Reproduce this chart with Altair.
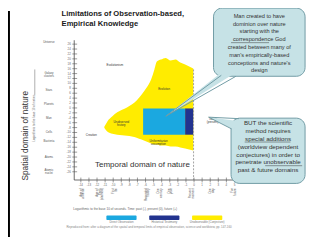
import altair as alt
import pandas as pd

# ---------------- data ----------------
title_lines = ["Limitations of Observation-based,", "Empirical Knowledge"]

time_ticks = list(range(-14, 6))           # log10 seconds, 0 = present
space_ticks = list(range(26, -27, -2))     # log10 metres

space_names = ["Universe", "Galaxy\nclusters", "Stars", "Planets", "Man", "Cells",
               "Bacteria", "Atoms", "Atomic\nnuclei"]
space_levels = [26.8, 14.3, 7.4, 1.4, -4.2, -9.7, -13.3, -20.0, -25.2]

event_names = ["Age of\nuniverse", "Age of\nEarth\n(claimed)", "First\nlife", "Recorded\nhistory",
               "One\ncentury", "One\nyear", "Present\nmoment", "One\nday", "Far\nfuture"]
event_times = [-14, -12, -10, -6, -4.4, -3.1, -0.5, 2, 4.7]

# unobservable (conjecture) region of the domain
blob_t = [-11.1, -10.7, -10.1, -9.5, -8.3, -7.1, -6.5, -5.9, -5.3, -4.9, -4.6, -4.1,
          -3.5, -2.9, -2.3, -1.7, -1.1, -0.6, -0.1]
blob_top = [-7.7, -5.4, -3.4, -1.8, 0.2, 3.0, 5.4, 8.1, 11.7, 15.7, 18.9, 19.7,
            20.4, 19.3, 19.7, 18.5, 17.7, 16.9, 16.1]
blob_bottom = [-8.1, -9.7, -10.5, -10.9, -11.3, -12.1, -12.9, -13.7, -14.5, -14.9, -14.9, -15.3,
               -15.3, -15.7, -15.7, -16.1, -16.5, -16.9, -17.3]

obs_names = ["Direct Observation", "Historical Testimony"]
obs_t0 = [-6.3, -1.1]
obs_t1 = [-1.1, -0.1]
obs_s_top = [-0.2, -0.2]
obs_s_bottom = [-10.9, -10.9]

legend_names = ["Direct Observation", "Historical Testimony", "Unobservable (Conjecture)"]
legend_colors = ["#1ba8e0", "#22338f", "#ffec00"]

region_labels = ["Evolutionism", "Evolution", "Unobserved\nhistory", "Uniformitarian\nassumption",
                 "Creation", "Today\n(present)"]
region_label_t = [-9.8, -3.7, -9.0, -4.4, -12.7, 2.3]
region_label_s = [17.5, 7.9, -5.6, -13.3, -10.9, -4.4]

callout1_lines = ["Man created to have", "dominion over nature", "starting with the",
                  "correspondence God", "created between many of", "man's empirically-based",
                  "conceptions and nature's", "design"]
callout2_lines = ["BUT the scientific", "method requires", "special additions",
                  "(worldview dependent", "conjectures) in order to", "penetrate unobservable",
                  "past & future domains"]

y_title = "Spatial domain of nature"
y_note = "Logarithmic to the base 10 of metres"
x_title = "Temporal domain of nature"
x_note = "Logarithmic to the base 10 of seconds.  Time: past (-), present (0), future (+)"
source_note = ("Reproduced from: after a diagram of the spatial and temporal limits of empirical "
               "observation, science and worldview, pp. 147-160")

# ---------------- layout (page pixels) ----------------
W, H = 308, 232
PX_T, PX_S = 8.3, 2.52
T0_PAGE, S26_PAGE = 199.0, 42.0
XA = -(T0_PAGE - 8) / PX_T
XB = XA + W / PX_T
YB = 26 + (S26_PAGE - 8) / PX_S
YA = YB - H / PX_S


def tx(px):
    return (px - T0_PAGE) / PX_T


def sy(py):
    return 26 - (py - S26_PAGE) / PX_S


XS = alt.Scale(domain=[XA, XB], nice=False, zero=False)
YS = alt.Scale(domain=[YA, YB], nice=False, zero=False)


def X(f):
    return alt.X(f, type="quantitative", scale=XS, axis=None)


def Y(f):
    return alt.Y(f, type="quantitative", scale=YS, axis=None)


def rules(df, color="#555", width=0.7, **kw):
    return alt.Chart(df).mark_rule(color=color, strokeWidth=width, **kw).encode(
        x=X("x"), x2=alt.X2("x2"), y=Y("y"), y2=alt.Y2("y2"))


def texts(df, **kw):
    return alt.Chart(df).mark_text(lineBreak="\n", font="Liberation Sans", **kw).encode(
        x=X("x"), y=Y("y"), text="label:N")


def rects(df, **kw):
    return alt.Chart(df).mark_rect(**kw).encode(
        x=X("x"), x2=alt.X2("x2"), y=Y("y"), y2=alt.Y2("y2"))


layers = []

# left frame line
layers.append(rects(pd.DataFrame({"x": [tx(8)], "x2": [tx(10)], "y": [sy(8)], "y2": [sy(240)]}),
                    color="#000"))

# title
layers.append(texts(pd.DataFrame({"x": [tx(63)] * 2, "y": [sy(11), sy(21.5)], "label": title_lines}),
                    align="left", baseline="middle", fontSize=7.8, fontWeight="bold", color="#1a1a1a"))

# yellow region
blob = pd.DataFrame({"t": blob_t, "top": blob_top, "bottom": blob_bottom})
layers.append(alt.Chart(blob).mark_area(color="#ffec00", interpolate="monotone", opacity=1).encode(
    x=X("t"), y=Y("top"), y2=alt.Y2("bottom")))

# observation rectangles
obs = pd.DataFrame({"x": obs_t0, "x2": obs_t1, "y": obs_s_top, "y2": obs_s_bottom, "name": obs_names})
layers.append(alt.Chart(obs).mark_rect().encode(
    x=X("x"), x2=alt.X2("x2"), y=Y("y"), y2=alt.Y2("y2"),
    color=alt.Color("name:N", scale=alt.Scale(domain=legend_names, range=legend_colors), legend=None)))

# present (dashed)
layers.append(rules(pd.DataFrame({"x": [tx(198.5)], "x2": [tx(198.5)], "y": [sy(68)], "y2": [sy(181)]}),
                    color="#8a8a8a", width=0.8, strokeDash=[2, 1.5]))

# region labels
layers.append(texts(pd.DataFrame({"x": region_label_t, "y": region_label_s, "label": region_labels}),
                    fontSize=3, color="#333", lineHeight=3.4))

# y axis
layers.append(rules(pd.DataFrame({"x": [tx(76)], "x2": [tx(76)], "y": [sy(38)], "y2": [sy(181.5)]}),
                    color="#444", width=0.8))
layers.append(rules(pd.DataFrame({"x": [tx(74)] * len(space_ticks), "x2": [tx(79)] * len(space_ticks),
                                  "y": space_ticks, "y2": space_ticks}), color="#555", width=0.6))
layers.append(texts(pd.DataFrame({"x": [tx(72.5)] * len(space_ticks), "y": space_ticks,
                                  "label": [str(v) for v in space_ticks]}),
                    align="right", baseline="middle", fontSize=3, color="#666"))
layers.append(texts(pd.DataFrame({"x": [tx(50)] * len(space_names), "y": space_levels, "label": space_names}),
                    align="center", baseline="middle", fontSize=3, color="#555", lineHeight=3.4))
layers.append(texts(pd.DataFrame({"x": [tx(26)], "y": [sy(136)], "label": [y_title]}),
                    angle=270, fontSize=8.5, color="#333", baseline="middle"))
layers.append(texts(pd.DataFrame({"x": [tx(35)], "y": [sy(118)], "label": [y_note]}),
                    angle=270, fontSize=3, color="#777", baseline="middle"))
layers.append(rules(pd.DataFrame({"x": [tx(35.5)], "x2": [tx(35.5)], "y": [sy(68)], "y2": [sy(94)]}),
                    color="#777", width=0.6))

# x axis
layers.append(rules(pd.DataFrame({"x": [tx(76)], "x2": [tx(240.5)], "y": [sy(181.5)], "y2": [sy(181.5)]}),
                    color="#444", width=0.8))
layers.append(rules(pd.DataFrame({"x": time_ticks, "x2": time_ticks,
                                  "y": [sy(179)] * len(time_ticks), "y2": [sy(184)] * len(time_ticks)}),
                    color="#555", width=0.6))
layers.append(texts(pd.DataFrame({"x": time_ticks, "y": [sy(186.5)] * len(time_ticks),
                                  "label": [str(v) for v in time_ticks]}),
                    baseline="middle", fontSize=3, color="#666"))
layers.append(texts(pd.DataFrame({"x": event_times, "y": [sy(190)] * len(event_times), "label": event_names}),
                    angle=270, align="right", baseline="middle", fontSize=3, color="#666", lineHeight=2.6))
layers.append(texts(pd.DataFrame({"x": [tx(146)], "y": [sy(166)], "label": [x_title]}),
                    fontSize=8.2, color="#333", baseline="middle"))
layers.append(texts(pd.DataFrame({"x": [tx(75)], "y": [sy(211)], "label": [x_note]}),
                    align="left", baseline="middle", fontSize=3.2, color="#666"))

# legend
li = range(len(legend_names))
leg = pd.DataFrame({"x": [tx(109 + 44 * i) for i in li], "x2": [tx(140 + 44 * i) for i in li],
                    "y": [sy(218)] * 3, "y2": [sy(222.5)] * 3, "name": legend_names})
layers.append(alt.Chart(leg).mark_rect(cornerRadius=1).encode(
    x=X("x"), x2=alt.X2("x2"), y=Y("y"), y2=alt.Y2("y2"),
    color=alt.Color("name:N", scale=alt.Scale(domain=legend_names, range=legend_colors), legend=None)))
layers.append(texts(pd.DataFrame({"x": [tx(124.5 + 44 * i) for i in li], "y": [sy(225)] * 3,
                                  "label": legend_names}),
                    baseline="middle", fontSize=3, color="#777"))
layers.append(texts(pd.DataFrame({"x": [tx(68)], "y": [sy(230)], "label": [source_note]}),
                    align="left", baseline="middle", fontSize=3, color="#888"))

# callouts
BUB_FILL, BUB_STROKE = "#c6e2e6", "#6f9aa3"


def bubble(x0, y0, x1, y1):
    return rects(pd.DataFrame({"x": [tx(x0)], "x2": [tx(x1)], "y": [sy(y0)], "y2": [sy(y1)]}),
                 fill=BUB_FILL, stroke=BUB_STROKE, strokeWidth=1, cornerRadius=9)


def pointer(pts):
    df = pd.DataFrame({"x": [tx(p[0]) for p in pts], "y": [sy(p[1]) for p in pts], "i": list(range(len(pts)))})
    return alt.Chart(df).mark_line(interpolate="linear-closed", fill=BUB_FILL, stroke=None).encode(
        x=X("x"), y=Y("y"), order="i:O")


def edge(p, q):
    return rules(pd.DataFrame({"x": [tx(p[0])], "x2": [tx(q[0])], "y": [sy(p[1])], "y2": [sy(q[1])]}),
                 color=BUB_STROKE, width=1)


# callout 1
layers.append(bubble(219, 5, 313, 75))
layers.append(pointer([(227, 71), (242, 71), (170, 116)]))
layers.append(edge((227, 74), (170, 116)))
layers.append(edge((242, 75), (170, 116)))
layers.append(texts(pd.DataFrame({"x": [tx(266)] * len(callout1_lines),
                                  "y": [sy(13 + 8 * i) for i in range(len(callout1_lines))],
                                  "label": callout1_lines}),
                    baseline="middle", fontSize=5.8, color="#333"))
layers.append(rules(pd.DataFrame({"x": [tx(237)], "x2": [tx(276)], "y": [sy(40.5)], "y2": [sy(40.5)]}),
                    color="#333", width=0.5))

# callout 2
layers.append(bubble(237, 118, 313, 185))
layers.append(pointer([(244, 121), (240, 130), (214, 117)]))
layers.append(edge((245, 118.5), (214, 117)))
layers.append(edge((237.5, 129), (214, 117)))
layers.append(texts(pd.DataFrame({"x": [tx(275)] * len(callout2_lines),
                                  "y": [sy(123 + 8.1 * i) for i in range(len(callout2_lines))],
                                  "label": callout2_lines}),
                    baseline="middle", fontSize=6.4, color="#333"))
layers.append(rules(pd.DataFrame({"x": [tx(251), tx(272)], "x2": [tx(298), tx(310)],
                                  "y": [sy(142.5), sy(166.8)], "y2": [sy(142.5), sy(166.8)]}),
                    color="#333", width=0.5))

chart = alt.layer(*layers).properties(width=W, height=H, padding=0, autosize="none").configure_view(stroke=None)
chart.save("out.html", embed_options={"renderer": "svg", "actions": False})
